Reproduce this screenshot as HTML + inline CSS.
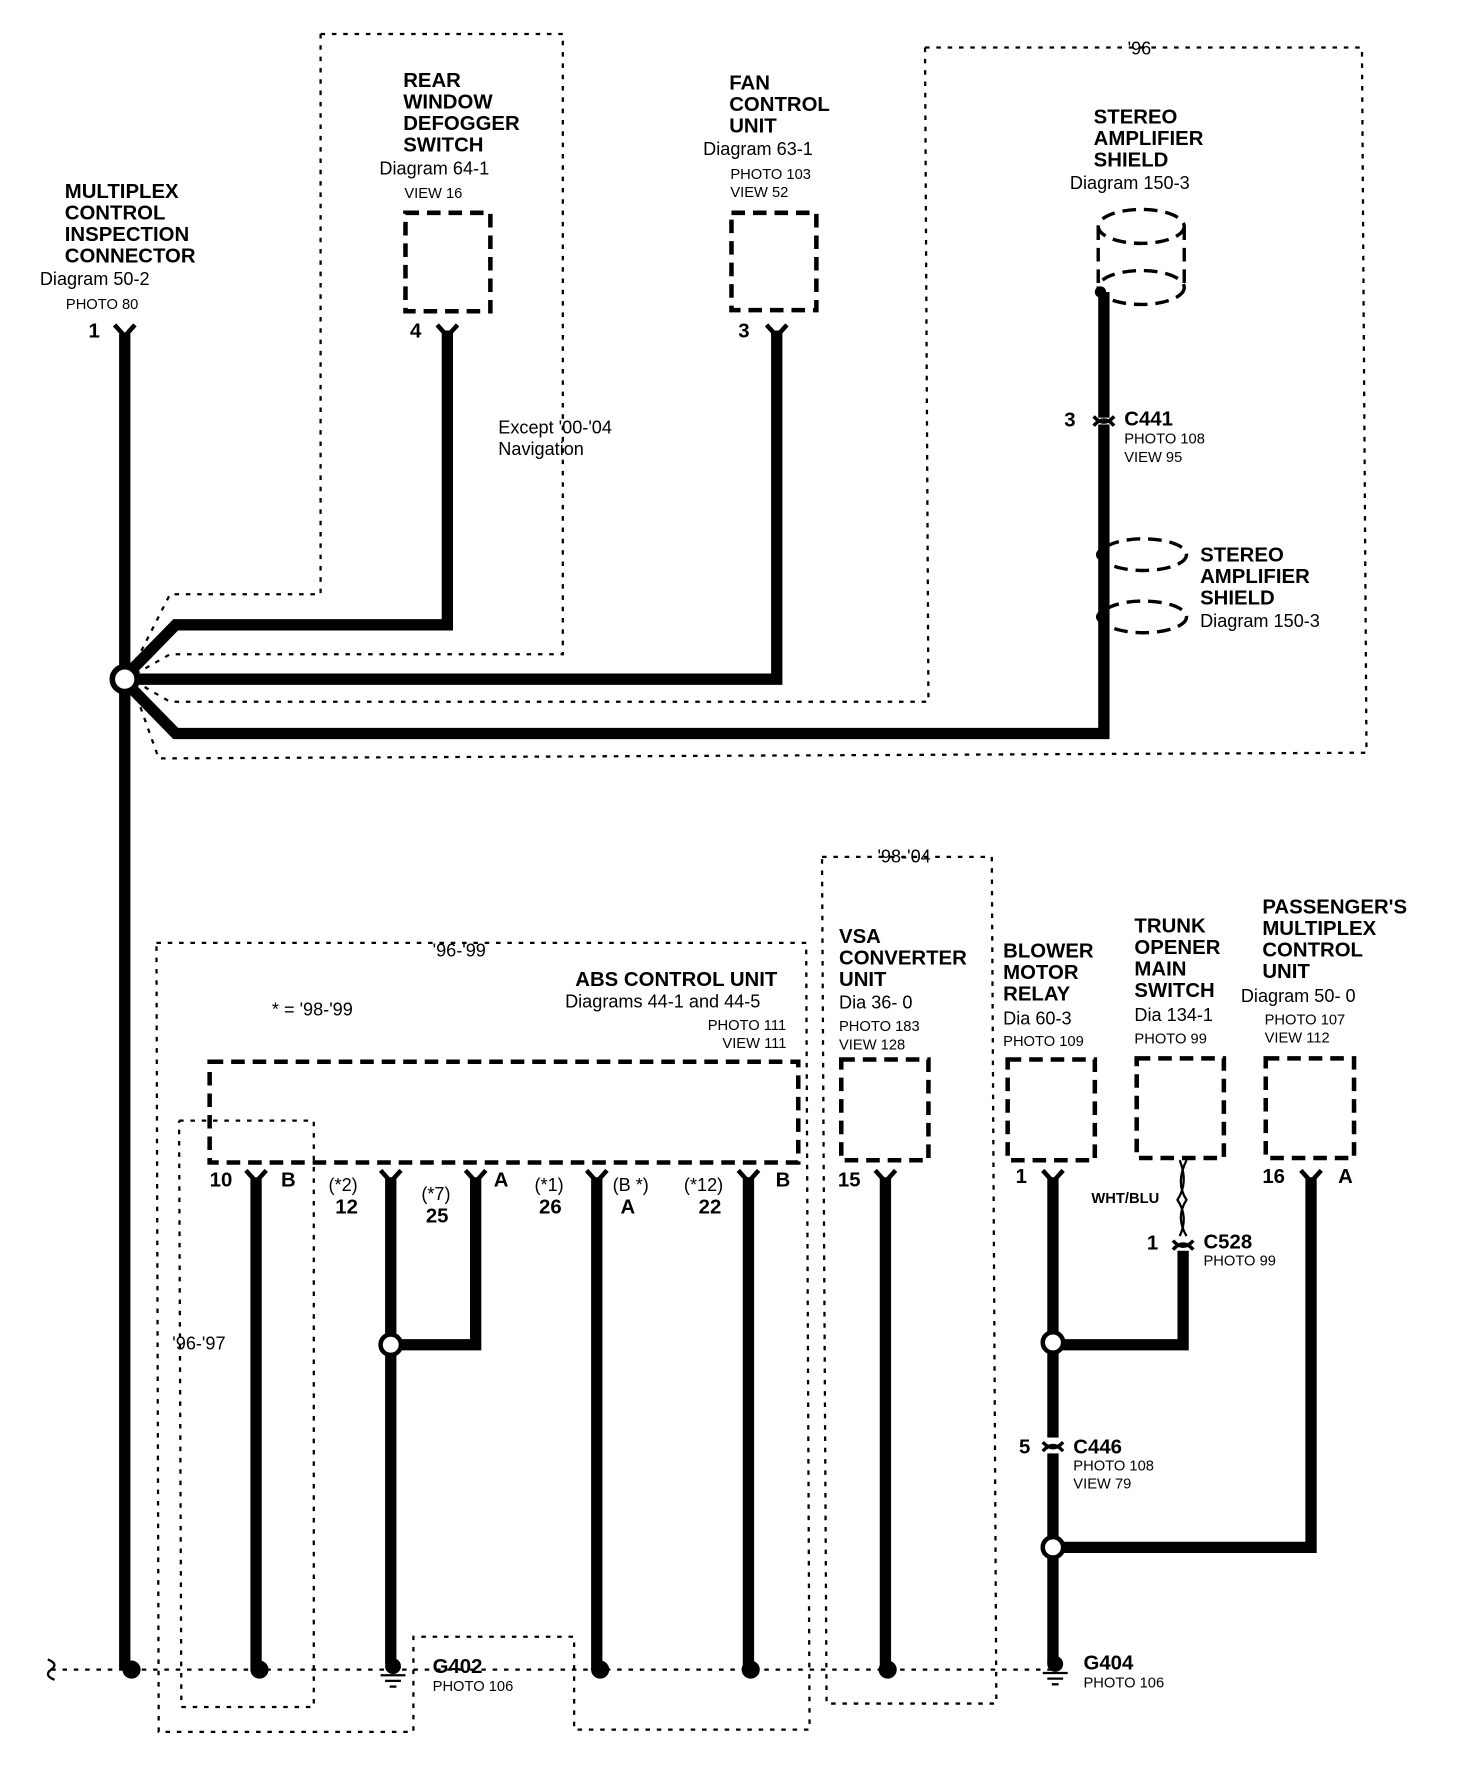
<!DOCTYPE html>
<html><head><meta charset="utf-8"><style>
html,body{margin:0;padding:0;background:#fff}
svg{display:block}
text{font-family:"Liberation Sans",Arial,sans-serif;fill:#000}
.b{font-weight:bold;font-size:18px}
.n{font-size:16px}
.s{font-size:13px}
.w{stroke:#000;stroke-width:10;fill:none;stroke-linejoin:miter}
.d{stroke:#000;stroke-width:2;fill:none;stroke-dasharray:4 6}
.bx{stroke:#000;stroke-width:4;fill:none;stroke-dasharray:12 7}
</style></head><body>
<svg width="1472" height="1776" viewBox="0 0 1300 1569" xmlns="http://www.w3.org/2000/svg">
<defs>
<g id="pin"><path d="M-9,-8 L0,2 L9,-8" stroke="#000" stroke-width="4" fill="none"/></g>
<g id="cn"><path d="M-9,4 Q0,-6 9,4 M-9,-4 Q0,6 9,-4" stroke="#000" stroke-width="3" fill="none"/></g>
<g id="gnd"><circle cx="0" cy="-6" r="7" fill="#000"/><path d="M-11,2 H11 M-7,7 H7 M-3,12 H3" stroke="#000" stroke-width="2"/></g>
</defs>
<!-- dashed regions top -->
<polyline class="d" points="283,30 497,30 497,578 150,578 122,594"/>
<polyline class="d" points="283,30 283,525 150,525 118,588"/>
<polyline class="d" points="817,42 1203,42 1207,665 140,670 120,614"/>
<polyline class="d" points="817,42 820,620 150,620 126,606"/>
<text x="996" y="48" class="n">'96</text>
<!-- top wires -->
<path class="w" d="M110,295 V1475"/>
<path class="w" d="M112,596 L155,552 H395 V292"/>
<path class="w" d="M112,600 H686 V292"/>
<path class="w" d="M112,604 L155,648 H975 V258"/>
<circle cx="110" cy="600" r="11" fill="#fff" stroke="#000" stroke-width="5"/>
<use href="#pin" x="110" y="295"/><use href="#pin" x="395" y="295"/><use href="#pin" x="686" y="295"/>
<text x="78" y="298" class="b">1</text><text x="362" y="298" class="b">4</text><text x="652" y="298" class="b">3</text>
<!-- labels top -->
<text class="b" x="57" y="175">MULTIPLEX</text><text class="b" x="57" y="194">CONTROL</text><text class="b" x="57" y="213">INSPECTION</text><text class="b" x="57" y="232">CONNECTOR</text>
<text class="n" x="35" y="252">Diagram 50-2</text><text class="s" x="58" y="273">PHOTO 80</text>
<text class="b" x="356" y="77">REAR</text><text class="b" x="356" y="96">WINDOW</text><text class="b" x="356" y="115">DEFOGGER</text><text class="b" x="356" y="134">SWITCH</text>
<text class="n" x="335" y="154">Diagram 64-1</text><text class="s" x="357" y="175">VIEW 16</text>
<rect class="bx" x="358" y="188" width="75" height="87"/>
<text class="b" x="644" y="79">FAN</text><text class="b" x="644" y="98">CONTROL</text><text class="b" x="644" y="117">UNIT</text>
<text class="n" x="621" y="137">Diagram 63-1</text><text class="s" x="645" y="158">PHOTO 103</text><text class="s" x="645" y="174">VIEW 52</text>
<rect class="bx" x="646" y="188" width="75" height="86"/>
<text class="n" x="440" y="383">Except '00-'04</text><text class="n" x="440" y="402">Navigation</text>
<text class="b" x="966" y="109">STEREO</text><text class="b" x="966" y="128">AMPLIFIER</text><text class="b" x="966" y="147">SHIELD</text>
<text class="n" x="945" y="167">Diagram 150-3</text>
<!-- shield cylinder -->
<ellipse cx="1008" cy="200" rx="38" ry="15" class="bx" style="stroke-width:3"/>
<ellipse cx="1008" cy="254" rx="38" ry="15" class="bx" style="stroke-width:3"/>
<path class="bx" style="stroke-width:3" d="M970,200 V254 M1046,200 V254"/>
<circle cx="972" cy="258" r="5" fill="#000"/>
<use href="#cn" x="975" y="372"/><rect x="968" y="369" width="14" height="6" fill="#fff"/><use href="#cn" x="975" y="372"/>
<text x="940" y="377" class="b">3</text><text x="993" y="376" class="b">C441</text>
<text x="993" y="392" class="s">PHOTO 108</text><text x="993" y="408" class="s">VIEW 95</text>
<ellipse cx="1010" cy="490" rx="38" ry="14" class="bx" style="stroke-width:3"/>
<ellipse cx="1010" cy="545" rx="38" ry="14" class="bx" style="stroke-width:3"/>
<circle cx="973" cy="490" r="5" fill="#000"/><circle cx="973" cy="545" r="5" fill="#000"/>
<text class="b" x="1060" y="496">STEREO</text><text class="b" x="1060" y="515">AMPLIFIER</text><text class="b" x="1060" y="534">SHIELD</text>
<text class="n" x="1060" y="554">Diagram 150-3</text>
<!-- bottom dashed regions -->
<polyline class="d" points="138,833 712,833 715,1528 507,1528 507,1446 365,1446 365,1530 140,1530 138,833"/>
<polyline class="d" points="158,990 277,990 277,1508 160,1508 158,990"/>
<polyline class="d" points="726,757 876,757 880,1505 730,1505 726,757"/>
<text x="382" y="845" class="n">'96-'99</text><text x="775" y="762" class="n">'98-'04</text>
<text x="240" y="897" class="n">* = '98-'99</text><text x="152" y="1192" class="n">'96-'97</text>
<path class="d" d="M45,1475 H930"/>
<path d="M42,1466 Q52,1470 45,1475 Q38,1480 48,1484" stroke="#000" stroke-width="2" fill="none"/>
<!-- ABS -->
<text class="b" x="508" y="871">ABS CONTROL UNIT</text><text class="n" x="499" y="890">Diagrams 44-1 and 44-5</text>
<text class="s" x="625" y="910">PHOTO 111</text><text class="s" x="638" y="926">VIEW 111</text>
<rect class="bx" x="185" y="938" width="520" height="89"/>
<path class="w" d="M226,1040 V1475 M345,1040 V1470 M420,1040 V1188 H345 M527,1040 V1475 M661,1040 V1475 M782,1040 V1475 M930,1040 V1470 M1045,1105 V1188 H930 M1158,1040 V1367 H930"/>
<path d="M1042,1025 Q1050,1045 1040,1060 Q1050,1075 1042,1092" stroke="#000" stroke-width="2" fill="none"/>
<path d="M1048,1025 Q1038,1045 1048,1060 Q1038,1075 1048,1092" stroke="#000" stroke-width="2" fill="none"/>
<circle cx="345" cy="1188" r="9" fill="#fff" stroke="#000" stroke-width="4"/>
<circle cx="930" cy="1186" r="9" fill="#fff" stroke="#000" stroke-width="4"/>
<circle cx="930" cy="1367" r="9" fill="#fff" stroke="#000" stroke-width="4"/>
<use href="#pin" x="226" y="1042"/><use href="#pin" x="345" y="1042"/><use href="#pin" x="420" y="1042"/><use href="#pin" x="527" y="1042"/><use href="#pin" x="661" y="1042"/><use href="#pin" x="782" y="1042"/><use href="#pin" x="930" y="1042"/><use href="#pin" x="1158" y="1042"/>
<text class="b" x="185" y="1048">10</text><text class="b" x="248" y="1048">B</text>
<text class="n" x="290" y="1052">(*2)</text><text class="b" x="296" y="1072">12</text>
<text class="n" x="372" y="1060">(*7)</text><text class="b" x="376" y="1080">25</text><text class="b" x="436" y="1048">A</text>
<text class="n" x="472" y="1052">(*1)</text><text class="b" x="476" y="1072">26</text>
<text class="n" x="541" y="1052">(B *)</text><text class="b" x="548" y="1072">A</text>
<text class="n" x="604" y="1052">(*12)</text><text class="b" x="617" y="1072">22</text><text class="b" x="685" y="1048">B</text>
<text class="b" x="740" y="1048">15</text><text class="b" x="897" y="1045">1</text>
<text class="b" x="1115" y="1045">16</text><text class="b" x="1182" y="1045">A</text>
<!-- VSA etc -->
<text class="b" x="741" y="833">VSA</text><text class="b" x="741" y="852">CONVERTER</text><text class="b" x="741" y="871">UNIT</text>
<text class="n" x="741" y="891">Dia 36- 0</text><text class="s" x="741" y="911">PHOTO 183</text><text class="s" x="741" y="927">VIEW 128</text>
<rect class="bx" x="743" y="936" width="77" height="89"/>
<text class="b" x="886" y="846">BLOWER</text><text class="b" x="886" y="865">MOTOR</text><text class="b" x="886" y="884">RELAY</text>
<text class="n" x="886" y="905">Dia 60-3</text><text class="s" x="886" y="924">PHOTO 109</text>
<rect class="bx" x="890" y="936" width="77" height="89"/>
<text class="b" x="1002" y="824">TRUNK</text><text class="b" x="1002" y="843">OPENER</text><text class="b" x="1002" y="862">MAIN</text><text class="b" x="1002" y="881">SWITCH</text>
<text class="n" x="1002" y="902">Dia 134-1</text><text class="s" x="1002" y="922">PHOTO 99</text>
<rect class="bx" x="1004" y="935" width="77" height="88"/>
<text class="b" x="1115" y="807">PASSENGER'S</text><text class="b" x="1115" y="826">MULTIPLEX</text><text class="b" x="1115" y="845">CONTROL</text><text class="b" x="1115" y="864">UNIT</text>
<text class="n" x="1096" y="885">Diagram 50- 0</text><text class="s" x="1117" y="905">PHOTO 107</text><text class="s" x="1117" y="921">VIEW 112</text>
<rect class="bx" x="1118" y="935" width="78" height="88"/>
<text class="s" x="964" y="1063" style="font-weight:bold">WHT/BLU</text>
<use href="#cn" x="1045" y="1100"/><text class="b" x="1013" y="1104">1</text><text class="b" x="1063" y="1103">C528</text><text class="s" x="1063" y="1118">PHOTO 99</text>
<rect x="924" y="1270" width="14" height="14" fill="#fff"/><use href="#cn" x="930" y="1278"/>
<text class="b" x="900" y="1284">5</text><text class="b" x="948" y="1284">C446</text>
<text class="s" x="948" y="1299">PHOTO 108</text><text class="s" x="948" y="1315">VIEW 79</text>
<!-- ground dots -->
<circle cx="116" cy="1475" r="8" fill="#000"/><circle cx="229" cy="1475" r="8" fill="#000"/><circle cx="530" cy="1475" r="8" fill="#000"/><circle cx="663" cy="1475" r="8" fill="#000"/><circle cx="784" cy="1475" r="8" fill="#000"/>
<use href="#gnd" x="347" y="1478"/><use href="#gnd" x="932" y="1476"/>
<text class="b" x="382" y="1478">G402</text><text class="s" x="382" y="1494">PHOTO 106</text>
<text class="b" x="957" y="1475">G404</text><text class="s" x="957" y="1491">PHOTO 106</text>
</svg>
</body></html>
